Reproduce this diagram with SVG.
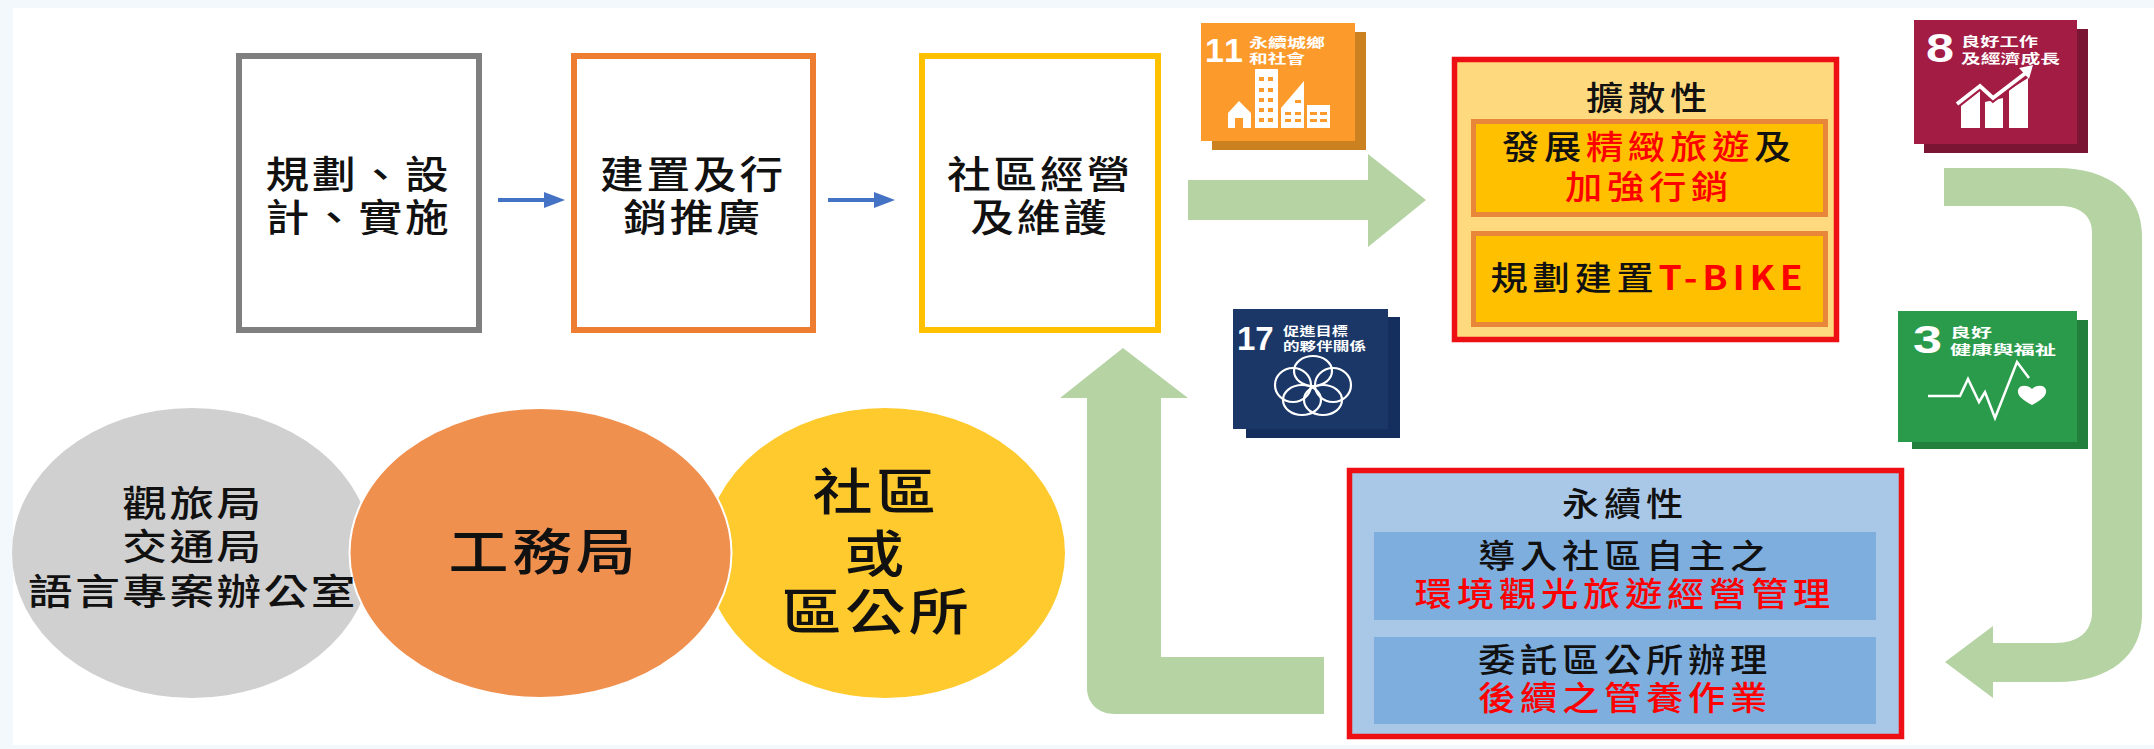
<svg xmlns="http://www.w3.org/2000/svg" width="2154" height="749" viewBox="0 0 2154 749">
<style>
text{font-family:"Noto Sans CJK TC","Noto Sans CJK SC","Liberation Sans",sans-serif;text-anchor:middle;fill:#111;font-weight:500}
.box{font-size:38px;letter-spacing:2.400px}
.panel{font-size:33px;letter-spacing:4.200px}
.circ{font-size:36px;letter-spacing:2px}
.big{font-size:50px;letter-spacing:3px}
.red{fill:#f00}
text.num{font-family:"Liberation Sans",sans-serif;fill:#fff;font-weight:700;text-anchor:start}
text.sdg{fill:#fff;font-size:13px;font-weight:700;text-anchor:start}
.proc{fill:#fff;stroke-width:6}
.flow{fill:#b6d3a4}
.link{stroke:#4472c4;stroke-width:4;fill:none;marker-end:url(#ah)}
.outer{stroke:#ee0f14;stroke-width:5.500}
.ins1{fill:#ffc000;stroke:#e8873a;stroke-width:5}
.ins2{fill:#7eaede}
</style>
<defs>
<marker id="ah" markerUnits="userSpaceOnUse" markerWidth="22" markerHeight="18" refX="0" refY="8" orient="auto"><path d="M0 0L21 8L0 16Z" fill="#4472c4"/></marker>
</defs>
<rect width="2154" height="749" fill="#f3f8fd"/>
<rect x="13" y="8" width="2141" height="737" fill="#fff"/>

<g id="connectors">
<path class="link" d="M498 200H544"/>
<path class="link" d="M828 200H874"/>
<path class="flow" d="M1188 180H1368V154L1426 200L1368 247V220H1188Z"/>
<path class="flow" d="M1944 168H2057C2110 168 2142 195 2142 235V615C2142 655 2110 682 2057 682H1993V698L1945 662L1993 626V643H2055C2078 643 2092 632 2092 612V232C2092 216 2080 206 2060 206H1944Z"/>
<path class="flow" d="M1123 348L1188 398H1161V657H1324V714H1115C1098 714 1087 703 1087 688V398H1060Z"/>
</g>

<g id="node-plan"><rect class="proc" x="239" y="56" width="240" height="274" stroke="#7f7f7f"/>
<text class="box" transform="translate(358.500 188) scale(1.15 1)">規劃、設</text>
<text class="box" transform="translate(358.500 231) scale(1.15 1)">計、實施</text></g>
<g id="node-build"><rect class="proc" x="574" y="56" width="239" height="274" stroke="#ed7d31"/>
<text class="box" transform="translate(693 188) scale(1.15 1)">建置及行</text>
<text class="box" transform="translate(693 231) scale(1.15 1)">銷推廣</text></g>
<g id="node-manage"><rect class="proc" x="922" y="56" width="236" height="274" stroke="#ffc000"/>
<text class="box" transform="translate(1040 188) scale(1.15 1)">社區經營</text>
<text class="box" transform="translate(1040 231) scale(1.15 1)">及維護</text></g>

<g id="node-sdg11">
<rect x="1212" y="32" width="154" height="118" fill="#cb8120"/><rect x="1201" y="23" width="154" height="118" fill="#fd9a2c"/>
<text class="num" x="1205" y="62" font-size="34" textLength="38">11</text>
<text class="sdg" x="1249" y="47" textLength="76" lengthAdjust="spacingAndGlyphs">永續城鄉</text><text class="sdg" x="1249" y="63" textLength="56" lengthAdjust="spacingAndGlyphs">和社會</text>
<path fill="#fff" d="M1228 128V113L1239 101L1251 113V128H1243V118H1235V128ZM1255 69H1278V128H1255ZM1281 128V108L1304 81V128ZM1307 105H1330V128H1307Z"/>
<path fill="#fd9a2c" d="M1259 77h5v4h-5zM1268 77h5v4h-5zM1259 88h5v4h-5zM1268 88h5v4h-5zM1259 98h5v4h-5zM1268 98h5v4h-5zM1259 108h5v4h-5zM1268 108h5v4h-5zM1259 118h5v4h-5zM1268 118h5v4h-5zM1285 112h6v3h-6zM1295 112h6v3h-6zM1285 119h6v3h-6zM1295 119h6v3h-6zM1295 100h6v3h-6zM1310 112h7v3h-7zM1320 112h7v3h-7zM1310 119h7v3h-7zM1320 119h7v3h-7z"/>
</g>

<g id="node-spread">
<rect x="1454.500" y="59.500" width="382" height="280" fill="#ffd97e" class="outer"/>
<text class="panel" transform="translate(1649 110) scale(1.13 1)">擴散性</text>
<rect class="ins1" x="1473.500" y="121.500" width="352" height="93"/>
<text class="panel" transform="translate(1649 159) scale(1.13 1)">發展<tspan class="red">精緻旅遊</tspan>及</text>
<text class="panel red" transform="translate(1649 199) scale(1.13 1)">加強行銷</text>
<rect class="ins1" x="1473.500" y="233.500" width="352" height="91"/>
<text class="panel" transform="translate(1649 290) scale(1.13 1)">規劃建置<tspan class="red" font-weight="700">T-BIKE</tspan></text>
</g>

<g id="node-sdg8">
<rect x="1924" y="29" width="164" height="124" fill="#7a1534"/><rect x="1914" y="20" width="163" height="124" fill="#a21c44"/>
<text class="num" x="1926" y="62" font-size="40" textLength="28" lengthAdjust="spacingAndGlyphs">8</text>
<text class="sdg" x="1961" y="46" textLength="77" lengthAdjust="spacingAndGlyphs">良好工作</text><text class="sdg" x="1961" y="63" textLength="99" lengthAdjust="spacingAndGlyphs">及經濟成長</text>
<path fill="#fff" d="M1961 128V100L1980 88V128ZM1985 128V102L2003 98V128ZM2009 128V90L2028 78V128Z"/>
<path fill="none" stroke="#a21c44" stroke-width="8" d="M1957 104L1980 86L1993 98L2027 72"/>
<path fill="none" stroke="#fff" stroke-width="4" d="M1957 104L1980 86L1993 98L2027 72"/>
<path fill="#fff" d="M2033 65L2019 68L2029 79Z"/>
</g>

<g id="node-sdg3">
<rect x="1912" y="320" width="176" height="129" fill="#23803c"/><rect x="1898" y="311" width="179" height="131" fill="#2a9b4a"/>
<text class="num" x="1913" y="353" font-size="38" textLength="29" lengthAdjust="spacingAndGlyphs">3</text>
<text class="sdg" x="1950" y="337" textLength="42" lengthAdjust="spacingAndGlyphs">良好</text><text class="sdg" x="1950" y="354" textLength="106" lengthAdjust="spacingAndGlyphs">健康與福祉</text>
<path fill="none" stroke="#fff" stroke-width="2.500" d="M1928 396H1960L1968 379L1979 402L1985 392L1995 418L2017 362L2029 378"/>
<path fill="#fff" d="M2032 405C2022 400 2017 395 2018 390C2019 385 2027 384 2032 389C2037 384 2045 385 2046 390C2047 395 2042 400 2032 405Z"/>
</g>

<g id="node-sdg17">
<rect x="1246" y="317" width="154" height="121" fill="#142e5e"/><rect x="1233" y="309" width="155" height="120" fill="#1a3768"/>
<text class="num" x="1237" y="350" font-size="33">17</text>
<text class="sdg" x="1283" y="336" style="font-size:12px" textLength="65" lengthAdjust="spacingAndGlyphs">促進目標</text><text class="sdg" x="1283" y="351" style="font-size:12px" textLength="83" lengthAdjust="spacingAndGlyphs">的夥伴關係</text>
<g fill="none" stroke="#fff" stroke-width="2.200"><ellipse cx="1313" cy="371" rx="19" ry="15"/><ellipse cx="1293" cy="385" rx="18" ry="17"/><ellipse cx="1333" cy="385" rx="18" ry="17"/><ellipse cx="1302" cy="400" rx="19" ry="15"/><ellipse cx="1323" cy="400" rx="19" ry="15"/></g>
</g>

<g id="node-sustain">
<rect x="1349.500" y="470.500" width="552" height="266" fill="#a9c8e8" class="outer"/>
<text class="panel" transform="translate(1625 516) scale(1.13 1)">永續性</text>
<rect class="ins2" x="1374" y="532" width="502" height="88"/>
<text class="panel" transform="translate(1625 568) scale(1.13 1)">導入社區自主之</text>
<text class="panel red" transform="translate(1625 606) scale(1.13 1)">環境觀光旅遊經營管理</text>
<rect class="ins2" x="1374" y="637" width="502" height="87"/>
<text class="panel" transform="translate(1625 672) scale(1.13 1)">委託區公所辦理</text>
<text class="panel red" transform="translate(1625 710) scale(1.13 1)">後續之管養作業</text>
</g>

<g id="node-agencies"><ellipse cx="192" cy="553" rx="180" ry="145" fill="#d0d0d0"/></g>
<g id="node-community"><ellipse cx="885" cy="553" rx="180" ry="145" fill="#ffca2e"/>
<text class="big" transform="translate(876 510) scale(1.2 1)">社區</text>
<text class="big" transform="translate(876 572) scale(1.2 1)">或</text>
<text class="big" transform="translate(877 630) scale(1.2 1)">區公所</text></g>
<g id="node-works"><ellipse cx="540.500" cy="553" rx="191" ry="145" fill="#f0904f" stroke="#fff" stroke-width="2"/>
<text class="big" transform="translate(544 570) scale(1.2 1)">工務局</text></g>
<g id="node-agencies-label">
<text class="circ" transform="translate(193 517) scale(1.24 1)">觀旅局</text>
<text class="circ" transform="translate(193 560) scale(1.24 1)">交通局</text>
<text class="circ" transform="translate(193 605) scale(1.24 1)">語言專案辦公室</text>
</g>
</svg>
